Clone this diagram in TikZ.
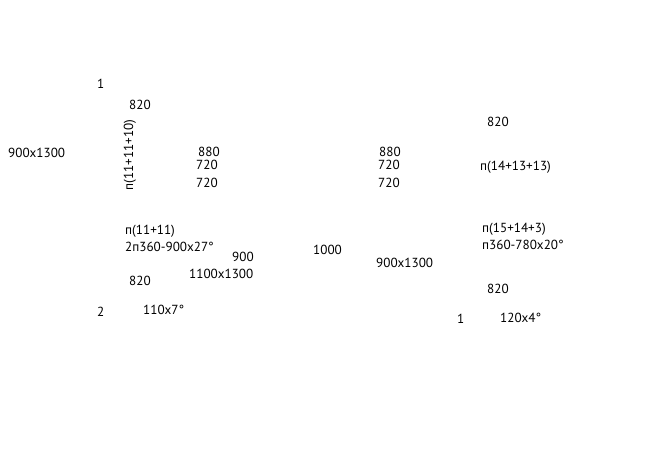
\documentclass[tikz,border=0pt]{standalone}
\usepackage{fontspec}
\setmainfont{PT Sans}
\tikzset{every picture/.style={x=1bp, y=-1bp},
        dimLabel/.style={anchor=west, inner sep=0pt, font=\fontsize{13.2}{15}\selectfont, text=black}}

\begin{document}
\begin{tikzpicture}

% page frame
\useasboundingbox (0,0) rectangle (656,475);

% left block
\node[dimLabel] (num-1) at (97,84) {1};
\node[dimLabel] (top-l) at (129,105) {820};
\node[dimLabel] (win-l) at (8,153) {900x1300};
\node[dimLabel, rotate=90, anchor=center] (sum-l) at (130,155) {п(11+11+10)};
\node[dimLabel] (a-l) at (198,152) {880};
\node[dimLabel] (b-l) at (196,165) {720};
\node[dimLabel] (c-l) at (196,183) {720};
\node[dimLabel] (sum2-l) at (125,231) {п(11+11)};
\node[dimLabel] (arc-l) at (125,247) {2п360-900x27°};
\node[dimLabel] (w-l) at (232,257) {900};
\node[dimLabel] (door-l) at (189,274) {1100x1300};
\node[dimLabel] (bot-l) at (129,281) {820};
\node[dimLabel] (num-2) at (97,312) {2};
\node[dimLabel] (ang-l) at (143,310) {110x7°};

% middle block
\node[dimLabel] (w-m) at (313,250) {1000};
\node[dimLabel] (a-m) at (379,152) {880};
\node[dimLabel] (b-m) at (378,165) {720};
\node[dimLabel] (c-m) at (378,183) {720};
\node[dimLabel] (win-m) at (376,263) {900x1300};

% right block
\node[dimLabel] (top-r) at (487,122) {820};
\node[dimLabel] (sum-r) at (480,167) {п(14+13+13)};
\node[dimLabel] (sum2-r) at (482,229) {п(15+14+3)};
\node[dimLabel] (arc-r) at (482,245) {п360-780x20°};
\node[dimLabel] (bot-r) at (487,289) {820};
\node[dimLabel] (num-3) at (457,319) {1};
\node[dimLabel] (ang-r) at (500,318) {120x4°};

\end{tikzpicture}
\end{document}
